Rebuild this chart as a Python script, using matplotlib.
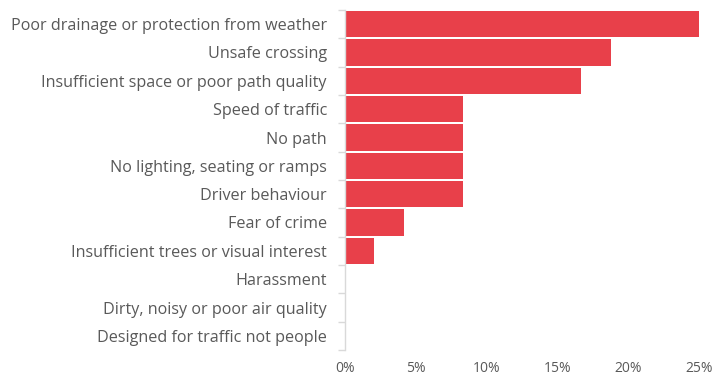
import numpy as np
import matplotlib
matplotlib.use("Agg")
import matplotlib.pyplot as plt
from matplotlib.ticker import FixedLocator, PercentFormatter

categories = [
    "Poor drainage or protection from weather",
    "Unsafe crossing",
    "Insufficient space or poor path quality",
    "Speed of traffic",
    "No path",
    "No lighting, seating or ramps",
    "Driver behaviour",
    "Fear of crime",
    "Insufficient trees or visual interest",
    "Harassment",
    "Dirty, noisy or poor air quality",
    "Designed for traffic not people",
]
shares = [25.0, 18.75, 16.67, 8.33, 8.33, 8.33, 8.33, 4.17, 2.08, 0, 0, 0]
xticks = [0, 5, 10, 15, 20, 25]

BAR = "#E8404A"
TEXT = "#595959"
AXIS = "#D9D9D9"

plt.rcParams["font.family"] = ["Open Sans", "DejaVu Sans"]

W, H = 719, 376
fig = plt.figure(figsize=(W / 100, H / 100), dpi=100)
ax = fig.add_axes([345 / W, 1 - 350 / H, (699 - 345) / W, (350 - 10) / H])

y = np.arange(len(categories))
ax.barh(y, shares, height=0.92, color=BAR)
ax.set_ylim(len(categories) - 0.5, -0.5)
ax.set_xlim(0, 25)

ax.set_yticks(y)
ax.set_yticklabels(categories, fontsize=11.6, color=TEXT)
ax.yaxis.set_minor_locator(FixedLocator(np.arange(len(categories) + 1) - 0.5))
ax.tick_params(axis="y", which="major", length=0, pad=13)
ax.tick_params(axis="y", which="minor", length=5, color=AXIS, width=1)

ax.set_xticks(xticks)
ax.xaxis.set_major_formatter(PercentFormatter(decimals=0))
ax.tick_params(axis="x", length=0, labelsize=10, labelcolor=TEXT, pad=8)

for side in ["top", "right", "bottom"]:
    ax.spines[side].set_visible(False)
ax.spines["left"].set_color(AXIS)
ax.spines["left"].set_linewidth(1)

fig.savefig("out.png", dpi=100)
